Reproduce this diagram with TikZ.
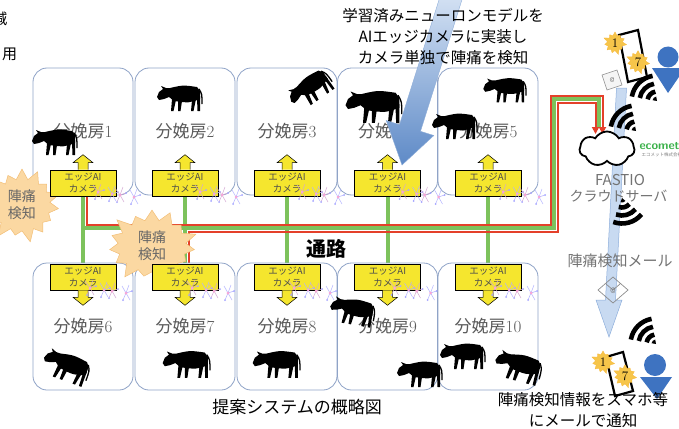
\documentclass[tikz,border=0pt]{standalone}
\usepackage{fontspec}
\newfontfamily\jp{Noto Sans CJK JP}
\usetikzlibrary{arrows.meta,positioning,backgrounds,calc,shapes.symbols}
\definecolor{roomline}{HTML}{8FA3C7}
\definecolor{roomtext}{HTML}{5A5A5A}
\definecolor{busgreen}{HTML}{7DC25C}
\definecolor{busred}{HTML}{E4402A}
\definecolor{camyellow}{HTML}{F5E62E}
\definecolor{burstfill}{HTML}{FBD8A2}
\definecolor{burstline}{HTML}{F2BE76}
\definecolor{arrowlight}{HTML}{D6E3F4}
\definecolor{arrowdark}{HTML}{5E8AC7}
\definecolor{mailblue}{HTML}{C8DAF1}
\definecolor{mailline}{HTML}{8DAEDB}
\definecolor{userblue}{HTML}{3E73C1}
\definecolor{ecogreen}{HTML}{3BB14A}
\definecolor{starfill}{HTML}{F6C54A}
\newcommand{\fsz}[1]{\fontsize{#1}{#1}\selectfont}

\tikzset{
  % cow silhouette, head to the left, y grows downwards
  cow/.pic={
    \fill (-13,-8) .. controls (0,-11) .. (14,-9) -- (17,-5) -- (17,3)
      .. controls (6,7) .. (-9,5) -- (-14,1) -- (-19,3) -- (-24,4) -- (-26,1)
      -- (-24,-4) -- (-20,-7) -- (-22,-10) -- (-17,-8) -- cycle;
    \fill (-11,3) -- (-12,15) -- (-9.5,15) -- (-7,4) -- cycle;
    \fill (-5,4) -- (-5,15) -- (-2.5,15) -- (-1,5) -- cycle;
    \fill (9,4) -- (8,15) -- (10.5,15) -- (13,3) -- cycle;
    \fill (14,2) -- (14.5,15) -- (17,15) -- (17,0) -- cycle;
    \draw[line width=1.3pt] (16,-7) .. controls (19,-2) .. (19,8);
  },
  camtip/.pic={
    \filldraw[camarrow] (-5,0) -- (-5,-7) -- (-10,-7) -- (0,-15) -- (10,-7) -- (5,-7) -- (5,0);
  },
  neuro/.pic={
    \draw[violet!35,line width=0.5pt] (0,0) -- (5,7) -- (2,14) (5,7) -- (11,5) (8,-1) -- (5,7) -- (9,14);
    \draw[blue!30,line width=0.5pt] (15,2) -- (19,9) -- (16,16) (19,9) -- (25,7) (22,1) -- (19,9) -- (23,16);
    \fill[magenta!35] (5,7) circle (1.5) (19,9) circle (1.5);
    \fill[blue!35] (2,14) circle (1) (11,5) circle (1) (25,7) circle (1) (16,16) circle (1);
  },
  % signal waves opening up-left
  wifi/.pic={
    \foreach \r in {9.5,17.5,25.5}
      \draw[line width=4.6pt] (-170:\r) arc[start angle=-170,end angle=-100,radius=\r];
    \fill (0,0) -- (-170:4.5) arc[start angle=-170,end angle=-100,radius=4.5] -- cycle;
  }
}

\begin{document}
\begin{tikzpicture}[x=1pt,y=-1pt,
  room/.style={draw=roomline,line width=0.8pt,fill=white,rounded corners=14pt,
    minimum width=100pt,minimum height=127pt,inner sep=0pt,text=roomtext,font=\fsz{17}},
  cam/.style={draw=black,line width=0.6pt,fill=camyellow,minimum width=66pt,
    minimum height=26pt,inner sep=0pt,align=center,text=black!70,
    font=\jp\fontsize{9.5}{11.5}\selectfont},
  camarrow/.style={draw=black,line width=0.5pt,fill=camyellow},
  burst/.style={starburst,starburst points=15,starburst point height=14pt,
    fill=burstfill,draw=burstline,line width=0.5pt,minimum width=84pt,minimum height=68pt,
    align=center,text=black!60,font=\jp\fontsize{14}{17}\selectfont},
  smallburst/.style={starburst,starburst points=11,starburst point height=5pt,
    fill=starfill,draw=starfill!80!orange,line width=0.3pt,inner sep=1pt,
    minimum width=25pt,minimum height=19pt,font=\fsz{13}},
  server/.style={cloud,cloud puffs=7,cloud puff arc=120,aspect=1.4,draw=black,
    line width=1.8pt,fill=white,minimum width=55pt,minimum height=35pt},
  bus/.style={busgreen,line width=4pt},
  alarm/.style={busred,line width=2pt,-{Triangle[length=7pt,width=7pt]}},
  gray text/.style={text=black!55,font=\jp\fsz{15}}]
\useasboundingbox (0,0) rectangle (679,428);
\coordinate (toprow) at (0,183);
\coordinate (botrow) at (0,277);
\coordinate (bus) at (0,228);

% rooms
\foreach \n/\x in {1/83,2/185,3/287,4/387.5,5/488}
  \node[room] (r\n) at (\x,131.5) {{\jp 分娩房}\n};
\foreach \n/\x in {6/83,7/185,8/287,9/387.5,10/488}
  \node[room] (r\n) at (\x,326.5) {{\jp 分娩房}\n};

% cows
\pic at (58,140) {cow};
\pic at (183,96) {cow};
\pic[rotate=35] at (312,86) {cow};
\pic[scale=1.25] at (378,104) {cow};
\pic[scale=0.95] at (508,88) {cow};
\pic at (458,124) {cow};
\pic[rotate=-20,scale=1.05] at (70,366) {cow};
\pic[scale=1.05] at (190,362) {cow};
\pic[scale=1.05] at (280,362) {cow};
\pic[rotate=-10] at (356,310) {cow};
\pic at (423,372) {cow};
\pic at (466,354) {cow};
\pic[rotate=-15,scale=1.05] at (522,366) {cow};

% alarms
\node[burst] (alarm1) at (22,205) {陣痛\\検知};
\node[burst,minimum width=96pt,minimum height=76pt] (alarm2) at (152,246) {陣痛\\検知};

% edge cameras
\foreach \n in {1,...,5} {
  \node[cam] (c\n) at (r\n |- toprow) {エッジAI\\カメラ};
  \pic at (c\n.north) {camtip};
  \pic at ($(c\n)+(10,2)$) {neuro};
  \pic at ($(c\n)+(32,5)$) {neuro};
}
\foreach \n in {6,...,10} {
  \node[cam] (c\n) at (r\n |- botrow) {エッジAI\\カメラ};
  \pic[yscale=-1] at (c\n.south) {camtip};
  \pic at ($(c\n)+(2,4)$) {neuro};
  \pic at ($(c\n)+(24,7)$) {neuro};
}

% network along the aisle
\begin{scope}[on background layer]
  \draw[bus] (c1.south) |- (554,228) |- (599,99) -- (599,127);
  \foreach \n in {2,...,5}
    \draw[bus] (c\n.south) -- (c\n.south |- bus);
  \foreach \n in {6,...,10}
    \draw[bus] (c\n.north) -- (c\n.north |- bus);
  \draw[alarm] ($(c1.south)+(3.5,0)$) |- (550.5,224.5) |- (602.5,95.5) -- (602.5,134);
  \draw[alarm] ($(c7.north)+(3.5,0)$) |- (557.5,231.5) |- (595.5,102.5) -- (595.5,134);
\end{scope}

% model upload arrow
\shade[top color=arrowlight,bottom color=arrowdark,draw=arrowdark!70,line width=0.4pt]
  (441.5,-8) -- (399.5,124.7) -- (386.2,120.5) -- (402,165) -- (433.8,135.5)
  -- (420.5,131.3) -- (462.5,-2) -- cycle;
\node[align=center,font=\jp\fontsize{15.5}{21}\selectfont] (model) at (443,37)
  {学習済みニューロンモデルを\\AIエッジカメラに実装し\\カメラ単独で陣痛を検知};

\node[font=\jp\bfseries\fsz{20}] (aisle) at (326,249) {通路};
\node[font=\jp\fsz{17}] (title) at (297,407) {提案システムの概略図};
\node[font=\jp\fsz{15}] at (0,19) {減};
\node[font=\jp\fsz{15}] at (9.5,54) {用};

% mail to the phones
\filldraw[fill=mailblue,draw=mailline,line width=0.5pt]
  (616.5,88) -- (605.5,300) -- (596,300) -- (609,337) -- (622,300) -- (615.5,300)
  -- (626.5,88) -- cycle;
\node[server] (cloud) at (607,149) {};
\node[gray text] (fastio) at (620,180) {FASTIO};
\node[gray text,font=\jp\fsz{14},anchor=west] (srvname) at (566,196) {クラウドサーバ};
\node[anchor=west,text=ecogreen,font=\sffamily\bfseries\fsz{12}] (eco) at (636,146) {ecomet};
\node[anchor=west,text=black!50,font=\jp\fsz{4.5}] (ecosub) at (638,155) {エコメット株式会社};
\node[gray text] (mail) at (620,261) {陣痛検知メール};
\draw[black!45,line width=0.7pt] (613,277) -- (628,290) -- (613,303) -- (598,290) -- cycle
  (606,284) -- (613,290) -- (620,284);
\node[text=black!50,font=\sffamily\fsz{8}] (at1) at (613,291) {@};

% upper phone and user
\draw[black!45,fill=black!4,line width=0.6pt] (602,75) -- (617,70) -- (622,85) -- (607,90) -- cycle;
\node[text=black!50,font=\sffamily\fsz{7}] (at2) at (612,80) {@};
\draw[line width=2.2pt] (619,35) -- (638,30) -- (647,77) -- (628,82) -- cycle;
\node[smallburst] (s1) at (615,43) {1};
\node[smallburst] (s7) at (638,62) {7};
\fill[userblue] (668,57) circle (10.5);
\fill[userblue] (652,68) -- (685,68) -- (668,93) -- cycle;
\pic at (657,101) {wifi};
\pic at (636,131) {wifi};
\pic[rotate=150] at (622,198) {wifi};

% lower phone and user
\pic at (656,344) {wifi};
\draw[line width=2.2pt] (606,357) -- (623,352) -- (633,391) -- (615,396) -- cycle;
\node[smallburst] (s1b) at (603,362) {1};
\node[smallburst] (s7b) at (625,376) {7};
\fill[userblue] (655,365) circle (11);
\fill[userblue] (640,377) -- (672,377) -- (657,399) -- cycle;
\node[align=center,font=\jp\fontsize{15.5}{21}\selectfont] (notify) at (583,410)
  {陣痛検知情報をスマホ等\\にメールで通知};
\end{tikzpicture}
\end{document}
